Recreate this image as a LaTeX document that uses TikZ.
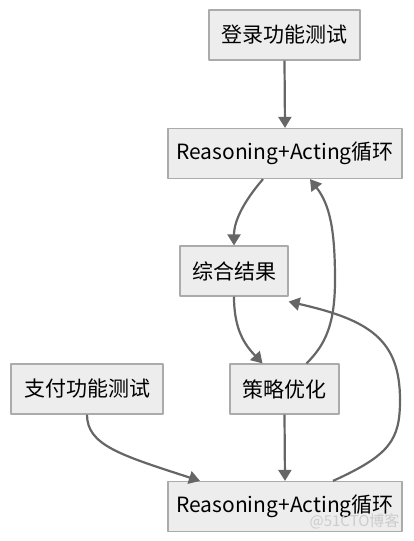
\documentclass[tikz,border=0pt]{standalone}
\usepackage{fontspec}
\setmainfont{Noto Sans CJK SC}
\usetikzlibrary{arrows.meta, shapes}

\begin{document}
\begin{tikzpicture}[x=1pt, y=-1pt, line join=round, >={Triangle[length=11pt,width=13pt]},
	every node/.style={font=\fontsize{21}{21}\selectfont},
	box/.style={draw=black!33, fill=black!7, line width=1.2pt, minimum height=50pt, inner xsep=6pt},
	flow/.style={draw=black!60, line width=2.2pt, ->}]
	\useasboundingbox (0,0) rectangle (413,541);
	% boxes
	\node[box, minimum width=151pt] (login) at (284.5,35) {登录功能测试};
	\node[box, minimum width=234pt] (loopA) at (285,153.5) {Reasoning+Acting循环};
	\node[box, minimum width=108pt] (merge) at (234,271) {综合结果};
	\node[box, minimum width=152pt] (pay) at (87,389) {支付功能测试};
	\node[box, minimum width=109pt] (tune) at (284.5,389) {策略优化};
	\node[box, minimum width=234pt] (loopB) at (285,506.5) {Reasoning+Acting循环};
	% arrows
	\draw[flow] (login.south) -- (loopA.north);
	\draw[flow] ([xshift=-22pt]loopA.south) .. controls (245,200) and (234,220) .. (merge.north);
	\draw[flow] ([xshift=22pt]tune.north) .. controls (325,345) and (335,325) .. (335,280)
		.. controls (335,230) and (330,205) .. ([xshift=25pt]loopA.south);
	\draw[flow] (merge.south) .. controls (234,330) and (245,345) .. ([xshift=-22pt]tune.north);
	\draw[flow] (pay.south) .. controls (87,445) and (120,455) .. ([xshift=-85pt]loopB.north);
	\draw[flow] (tune.south) -- (loopB.north);
	\draw[flow] ([xshift=48pt]loopB.north) .. controls (390,455) and (400,440) .. (400,400)
		.. controls (400,340) and (370,320) .. ([yshift=-5pt]merge.south east);
	% watermark
	\node[text=black!20, font=\fontsize{15}{15}\selectfont, anchor=south east] (mark) at (403,533) {@51CTO博客};
\end{tikzpicture}
\end{document}
